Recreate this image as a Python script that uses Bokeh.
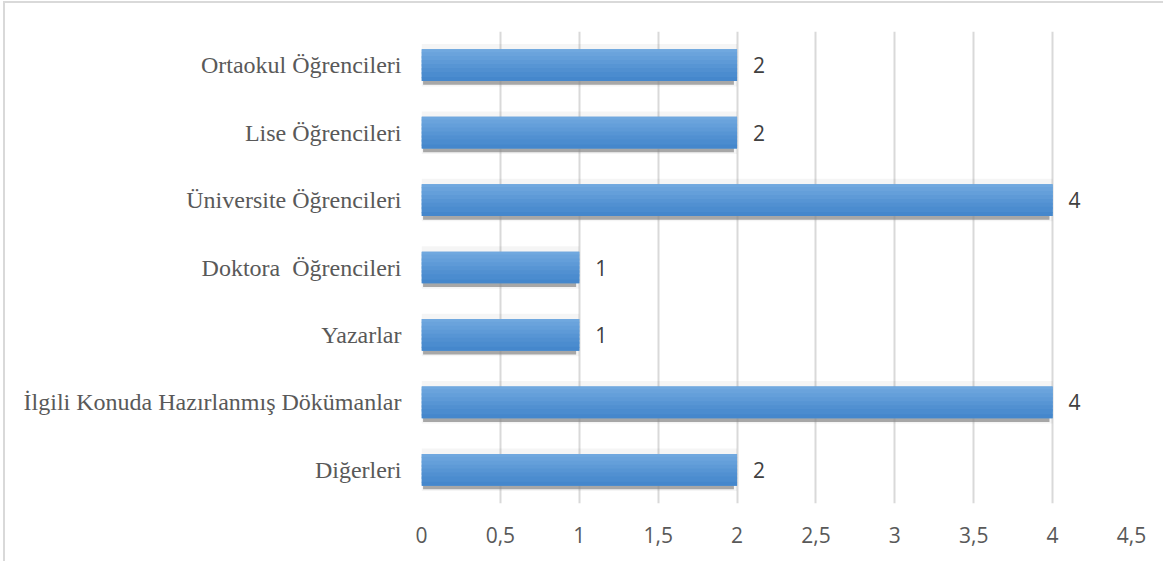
from bokeh.plotting import figure
from bokeh.models import FactorRange, Range1d, FixedTicker, ColumnDataSource
from bokeh.transform import dodge
from bokeh.core.properties import value
from bokeh.embed import file_html
from bokeh.resources import INLINE

categories = ["Ortaokul Öğrencileri", "Lise Öğrencileri", "Üniversite Öğrencileri",
              "Doktora  Öğrencileri", "Yazarlar", "İlgili Konuda Hazırlanmış Dökümanlar",
              "Diğerleri"]
counts = [2, 2, 4, 1, 1, 4, 2]
tick_values = [0, 0.5, 1, 1.5, 2, 2.5, 3, 3.5, 4, 4.5]
tick_labels = ["0", "0,5", "1", "1,5", "2", "2,5", "3", "3,5", "4", "4,5"]

# keep the double space visible in SVG text (plain spaces collapse)
display_cats = [c.replace("  ", "\u00a0 ") for c in categories]

src = ColumnDataSource(dict(cat=display_cats, val=counts, lab=[str(v) for v in counts]))

p = figure(width=1160, height=560, output_backend="svg", toolbar_location=None,
           y_range=FactorRange(factors=list(reversed(display_cats)), range_padding=0),
           x_range=Range1d(0, 4.5),
           min_border_left=416, min_border_right=34, min_border_top=28, min_border_bottom=60)
# outer chart border (top and left edges visible in the reference)
p.styles = {"margin-left": "3px", "margin-top": "1px",
            "border-left": "2px solid #d9d9d9", "border-top": "2px solid #d9d9d9"}
p.outline_line_color = None
p.background_fill_color = "white"
p.border_fill_color = "white"

# axes
p.xaxis.ticker = FixedTicker(ticks=tick_values)
p.xaxis.major_label_overrides = {v: l for v, l in zip(tick_values, tick_labels)}
p.xaxis.axis_line_color = None
p.xaxis.major_tick_line_color = None
p.xaxis.minor_tick_line_color = None
p.xaxis.major_label_text_font = "Open Sans"
p.xaxis.major_label_text_font_size = "21px"
p.xaxis.major_label_text_color = "#595959"
p.xaxis.major_label_standoff = 17

p.yaxis.axis_line_color = None
p.yaxis.major_tick_line_color = None
p.yaxis.minor_tick_line_color = None
p.yaxis.major_label_text_font = "Liberation Serif"
p.yaxis.major_label_text_font_size = "24px"
p.yaxis.major_label_text_color = "#595959"
p.yaxis.major_label_standoff = 14

p.xgrid.grid_line_color = "#d9d9d9"
p.xgrid.grid_line_width = 2
p.xgrid.ticker = FixedTicker(ticks=tick_values)
p.ygrid.grid_line_color = None

bar_h = 0.47
# soft halo
p.hbar(y="cat", right="val", left=0, height=bar_h + 0.16, source=src,
       fill_color="black", fill_alpha=0.04, line_color=None)
# shadow
p.hbar(y=dodge("cat", -0.055, range=p.y_range), right=dodge("val", -0.02), left=0.01,
       height=bar_h, source=src, fill_color="#8c8c8c", fill_alpha=0.75, line_color=None)

# gradient bar: base then overlapping strips
p.hbar(y="cat", right="val", left=0, height=bar_h, source=src,
       fill_color="#5597d8", line_color=None)
top_c = (0x70, 0xa8, 0xdf)
bot_c = (0x45, 0x87, 0xcc)
n = 8
sh = bar_h / n
for i in range(n):
    t = i / (n - 1)
    c = tuple(int(round(top_c[k] + (bot_c[k] - top_c[k]) * t)) for k in range(3))
    col = "#%02x%02x%02x" % c
    off = bar_h / 2 - sh * (i + 0.5)
    h = sh if i in (0, n - 1) else sh * 1.6
    p.hbar(y=dodge("cat", off, range=p.y_range), right="val", left=0, height=h,
           source=src, fill_color=col, line_color=None)

p.text(x="val", y="cat", text="lab", source=src, x_offset=16,
       text_font=value("Open Sans"), text_font_size="21px", text_color="#404040",
       text_baseline="middle", text_align="left")

open("out.html", "w").write(file_html(p, INLINE))
